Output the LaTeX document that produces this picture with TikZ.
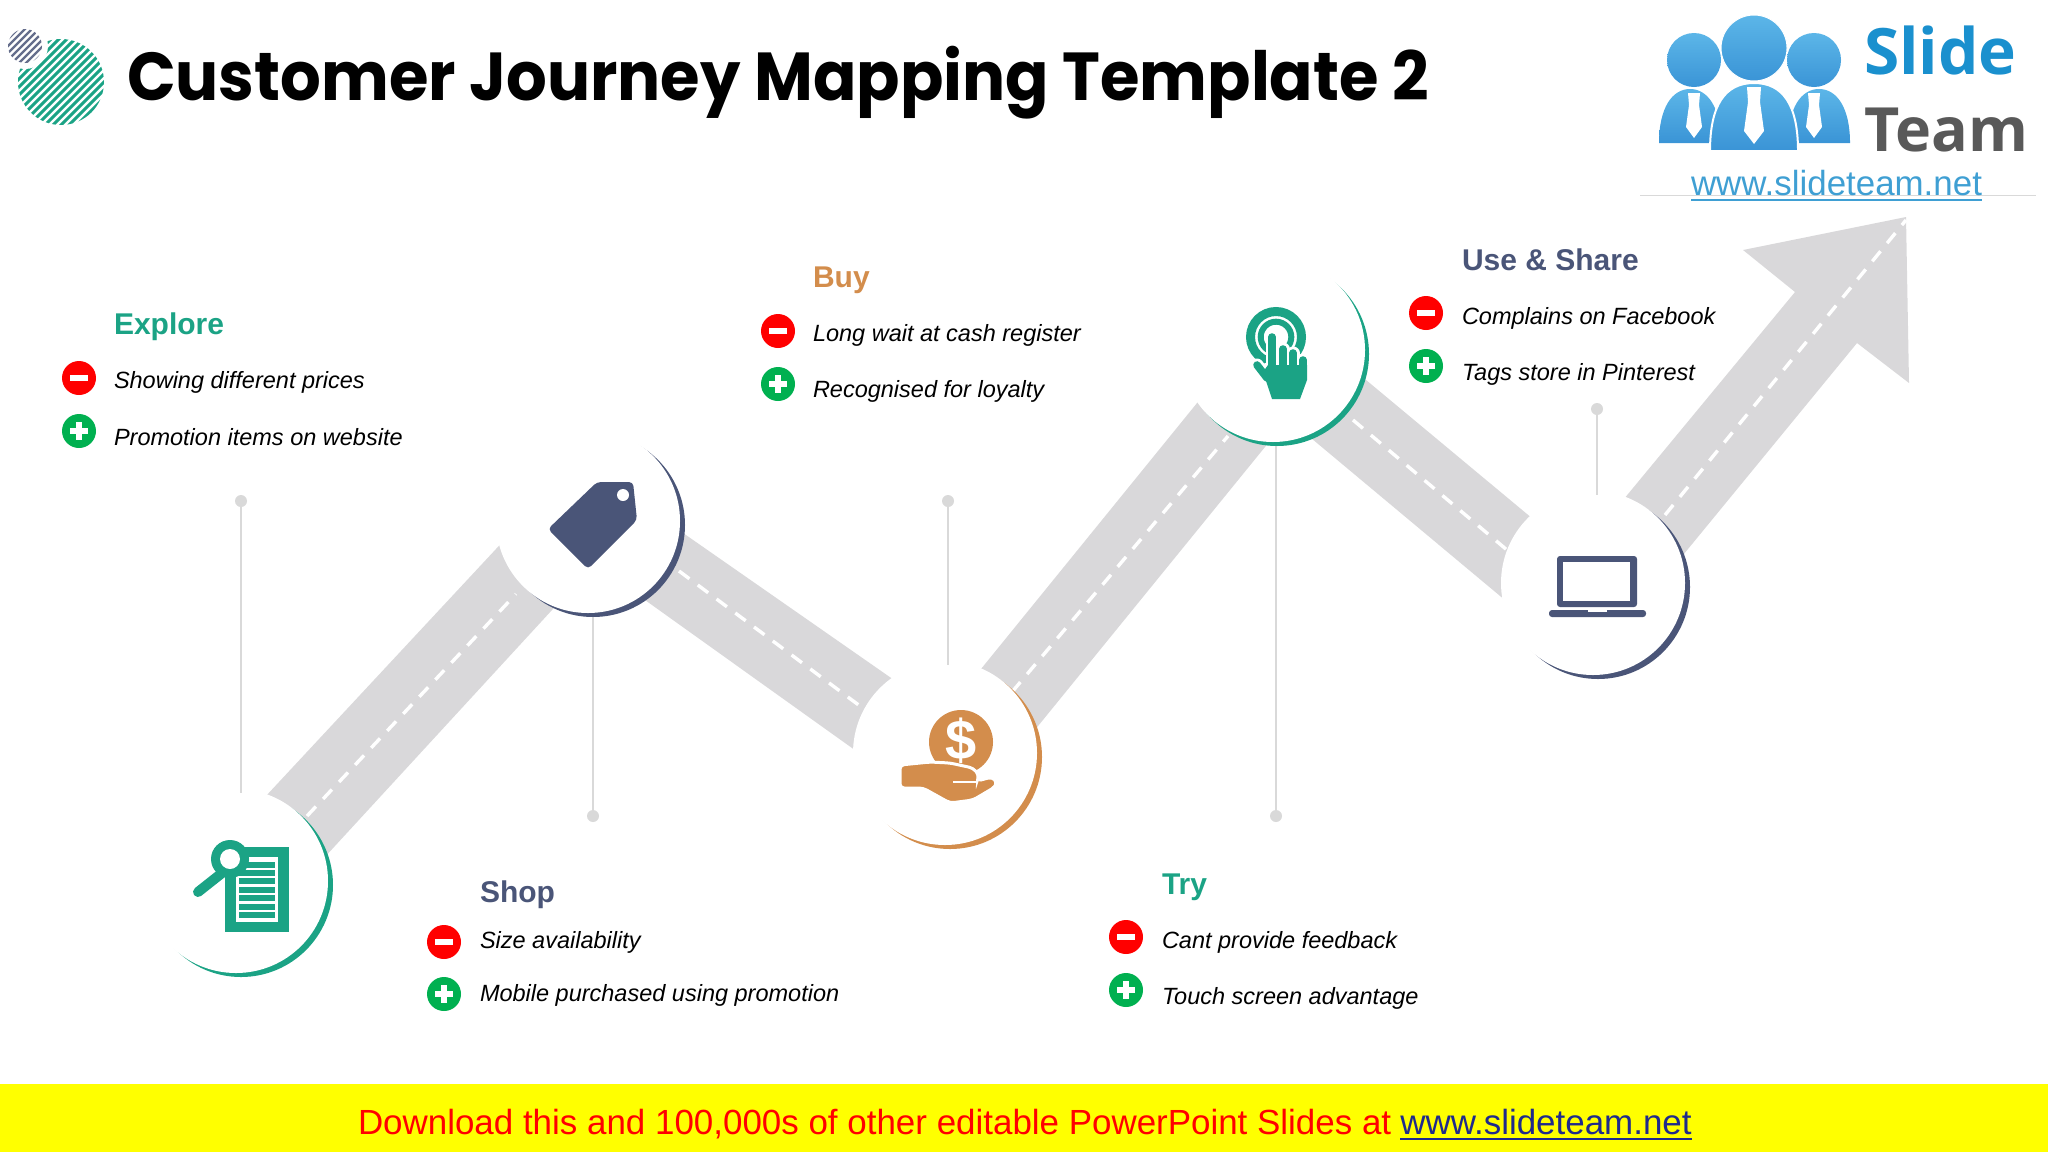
\documentclass[tikz,border=0pt]{standalone}
\usepackage{fontspec}
\setmainfont{Liberation Sans}
\newfontfamily\titlefont{Poppins}
\newfontfamily\logofont{Open Sans}
\usepackage{tikz}
\usetikzlibrary{positioning}
%
\definecolor{teal}{HTML}{1BA385}
\definecolor{navy}{HTML}{4A5578}
\definecolor{ochre}{HTML}{D38D4C}
\definecolor{road}{HTML}{D9D8DA}
\definecolor{stem}{HTML}{D9D9D9}
\definecolor{okgreen}{HTML}{00B050}
\definecolor{skyblue}{HTML}{3F9FD3}
\definecolor{slideblue}{HTML}{1A90CE}
\definecolor{headtop}{HTML}{5CB6E8}
\definecolor{headbot}{HTML}{3A94D6}
\definecolor{bannerfill}{HTML}{FFFF00}
\definecolor{bannerred}{HTML}{FF0000}
\definecolor{bannerlink}{HTML}{1F2A8C}
%
\tikzset{
  every node/.style={inner sep=0pt,outer sep=0pt},
  crescent/.style={circle,minimum size=92pt},
  ring/.style={circle,fill=white,minimum size=92pt},
  stemdot/.style={circle,fill=stem,minimum size=6pt},
  stemline/.style={draw=stem,line width=1pt},
  roadpart/.style={fill=road},
  roadmark/.style={draw=white,line width=1.7pt,dash pattern=on 6.5pt off 5.2pt},
  heading/.style={anchor=base west,font=\fontsize{15}{17}\selectfont\bfseries},
  item/.style={anchor=base west,font=\fontsize{11.75}{14}\selectfont\itshape},
  badminus/.style={circle,fill=bannerred,minimum size=17pt,path picture={
      \fill [white] (path picture bounding box.center) ++(-9,-3) rectangle ++(18,6) ;}},
  goodplus/.style={circle,fill=okgreen,minimum size=17pt,path picture={
      \fill [white] (path picture bounding box.center) ++(-9,-3) rectangle ++(18,6) ;
      \fill [white] (path picture bounding box.center) ++(-3,-9) rectangle ++(6,18) ;}},
  logoblue/.style={top color=headtop,bottom color=headbot},
}
\begin{document}
\begin{tikzpicture}[x=0.5pt,y=-0.5pt]
%
  \useasboundingbox (0,0) rectangle (2048,1152) ;
%
% title and its two striped discs
  \begin{scope}
    \clip (61,82) circle [radius=43] ;
    \foreach \i in {-40,-32,...,130}
      \draw [teal,line width=1.5pt] (\i,130) -- ++(100,-100) ;
  \end{scope}
  \fill [white] (25,46) circle [radius=23] ;
  \begin{scope}
    \clip (25,46) circle [radius=17] ;
    \foreach \i in {-30,-23,...,70}
      \draw [navy!85,line width=1.2pt] (\i,70) -- ++(50,-50) ;
  \end{scope}
  \node [anchor=base west,font=\titlefont\fontsize{32}{38}\selectfont\bfseries] (title) at (127,100)
    {\scalebox{1}[1.06]{Customer Journey Mapping Template 2}} ;
%
% logo
  \draw [stem,line width=0.5pt] (1640,195) -- (2036,195) ;
  \foreach \x in {1659,1788}
    \path [logoblue,xshift=(\x-1659)*0.5pt] (1659,143) .. controls (1659,108) and (1672,89) .. (1690,89)
      .. controls (1708,89) and (1721,108) .. (1721,143) -- cycle ;
  \path [logoblue,draw=white,line width=1pt] (1710,151) .. controls (1710,105) and (1725,83) .. (1754,83)
    .. controls (1783,83) and (1798,105) .. (1798,151) -- cycle ;
  \shade [logoblue] (1694,60) circle [radius=27] ;
  \shade [logoblue] (1814,60) circle [radius=27] ;
  \shade [logoblue,draw=white,line width=0.5pt] (1754,48) circle [radius=33] ;
  \foreach \x in {1694,1814}
    \fill [white] (\x-6,93) -- (\x+6,93) -- (\x+5,105) -- (\x+8,127) -- (\x,138) -- (\x-8,127) -- (\x-5,105) -- cycle ;
  \fill [white] (1747,87) -- (1761,87) -- (1760,102) -- (1764,131) -- (1754,144) -- (1744,131) -- (1748,102) -- cycle ;
  \node [anchor=base west,text=slideblue,font=\logofont\fontsize{32}{36}\selectfont\bfseries] (slide) at (1864,74) {Slide} ;
  \node [anchor=base west,text=black!65,font=\logofont\fontsize{30.5}{36}\selectfont\bfseries] (team) at (1864,151) {Team} ;
  \node [anchor=base west,text=skyblue,font=\fontsize{17.45}{20}\selectfont] (logourl) at (1691,195) {www.slideteam.net} ;
  \draw [skyblue,line width=1.4pt] (logourl.base west) ++(0,5) -- ++(291,0) ;
%
% road
  \fill [roadpart] (238,826) -- (523,520) -- (575,585) -- (300,884) -- cycle ;
  \fill [roadpart] (640,503) -- (917,696) -- (880,768) -- (610,575) -- cycle ;
  \fill [roadpart] (955,701) -- (1223,371) -- (1291,415) -- (1012,758) -- cycle ;
  \fill [roadpart] (1318,340) -- (1563,544) -- (1536,626) -- (1293,423) -- cycle ;
  \fill [roadpart] (1590,540) -- (1795,292) -- (1743,250) -- (1906,217) -- (1909,383)
    -- (1857,343) -- (1656,588) -- cycle ;
%
  \draw [roadmark] (307,816) -- (516,594) ;
  \draw [roadmark] (679,571) -- (868,712) ;
  \draw [roadmark] (1012,692) -- (1228,436) ;
  \draw [roadmark] (1353,420) -- (1507,550) ;
  \draw [roadmark] (1665,515) -- (1906,220) ;
%
% rings
  \node [crescent,fill=teal] (exc) at (241,885) {} ;
  \node [ring] (exr) at (236,881) {} ;
  \node [crescent,fill=navy] (shc) at (593,525) {} ;
  \node [ring] (shr) at (588,521) {} ;
  \node [crescent,fill=ochre] (byc) at (950,757) {} ;
  \node [ring] (byr) at (945,753) {} ;
  \node [crescent,fill=teal] (tyc) at (1277,354) {} ;
  \node [ring] (tyr) at (1273,350) {} ;
  \node [crescent,fill=navy] (usc) at (1598,587) {} ;
  \node [ring] (usr) at (1593,583) {} ;
%
% stems
  \node [stemdot] (exd) at (241,501) {} ;
  \node [stemdot] (shd) at (593,816) {} ;
  \node [stemdot] (byd) at (948,501) {} ;
  \node [stemdot] (tyd) at (1276,816) {} ;
  \node [stemdot] (usd) at (1597,409) {} ;
%
  \draw [stemline,shorten >=-2pt] (exd) -- (exd |- exr.north) ;
  \draw [stemline] (shd) -- (shd |- shc.south) ;
  \draw [stemline,shorten >=-2pt] (byd) -- (byd |- byr.north) ;
  \draw [stemline] (tyd) -- (tyd |- tyc.south) ;
  \draw [stemline,shorten >=-2pt] (usd) -- (usd |- usr.north) ;
%
% explore icon
  \fill [teal] (225,847) rectangle (289,932) ;
  \fill [white] (236,857) rectangle (278,922) ;
  \foreach \y in {862,870,878,887,895,904,912}
    \fill [teal] (239,\y) rectangle (275,\y+6) ;
  \draw [teal,line width=5pt,line cap=round] (222,873) -- (198,892) ;
  \fill [teal] (230,859) circle [radius=19] ;
  \fill [white] (230,859) circle [radius=10] ;
%
% shop icon
  \fill [navy,rounded corners=2pt] (597,482) -- (633,482) -- (637,520) -- (588,569) -- (548,529) -- cycle ;
  \fill [white] (623,495) circle [radius=6] ;
%
% buy icon
  \fill [ochre] (961,742) circle [radius=32] ;
  \node [text=white,font=\fontsize{28}{30}\selectfont\bfseries] (dollar) at (961,741) {\$} ;
  \draw [white,line width=1.5pt,fill=ochre,rounded corners=2pt] (900,765) -- (930,762) -- (950,763) -- (973,768)
    -- (979,775) -- (977,781) -- (992,777) -- (997,782) -- (995,787) -- (973,800) -- (950,803) -- (923,788)
    -- (900,788) -- cycle ;
  \draw [white,line width=0.8pt] (953,782) -- (977,782) ;
%
% try icon
  \draw [teal,line width=4.5pt] (1276,337) circle [radius=25.5] ;
  \draw [teal,line width=3pt] (1276,337) circle [radius=15.3] ;
  \foreach \x/\y in {1272/337,1283/349,1293/353,1303/360} {
    \draw [white,line width=6.5pt,line cap=round] (\x,\y) -- (\x,375) ;
  }
  \draw [white,line width=6.5pt,line cap=round] (1257,365) -- (1267,378) ;
  \fill [white] (1258,366) -- (1268,362) -- (1312,356) -- (1312,385) -- (1304,402) -- (1270,402) -- cycle ;
  \foreach \x/\y in {1272/337,1283/349,1293/353,1303/360} {
    \draw [teal,line width=3.8pt,line cap=round] (\x,\y) -- (\x,375) ;
  }
  \draw [teal,line width=3.8pt,line cap=round] (1257,365) -- (1267,378) ;
  \fill [teal] (1263,372) -- (1268,365) -- (1307,365) -- (1307,380) -- (1300,399) -- (1272,399) -- cycle ;
%
% use and share icon
  \fill [navy,rounded corners=1.5pt] (1557,607) -- (1557,556) -- (1637,556) -- (1637,607) -- cycle ;
  \fill [white] (1563,562) rectangle (1630,601) ;
  \fill [navy,rounded corners=1.5pt] (1549,610) -- (1646,610) -- (1646,617) -- (1549,617) -- cycle ;
  \fill [white] (1588,610) rectangle (1607,612) ;
%
% explore text
  \node [heading,text=teal] (exh) at (114,334) {Explore} ;
  \node [badminus] (exm) at (79,378) {} ;
  \node [item] (ext) at (114,388) {Showing different prices} ;
  \node [goodplus] (exp) at (79,431) {} ;
  \node [item] (exs) at (114,445) {Promotion items on website} ;
%
% shop text
  \node [heading,text=navy] (shh) at (480,902) {Shop} ;
  \node [badminus] (shm) at (444,942) {} ;
  \node [item] (sht) at (480,948) {Size availability} ;
  \node [goodplus] (shp) at (444,994) {} ;
  \node [item] (shs) at (480,1001) {Mobile purchased using promotion} ;
%
% buy text
  \node [heading,text=ochre] (byh) at (813,287) {Buy} ;
  \node [badminus] (bym) at (778,331) {} ;
  \node [item] (byt) at (813,341) {Long wait at cash register} ;
  \node [goodplus] (byp) at (778,384) {} ;
  \node [item] (bys) at (813,397) {Recognised for loyalty} ;
%
% try text
  \node [heading,text=teal] (tyh) at (1162,894) {Try} ;
  \node [badminus] (tym) at (1126,937) {} ;
  \node [item] (tyt) at (1162,948) {Cant provide feedback} ;
  \node [goodplus] (typ) at (1126,990) {} ;
  \node [item] (tys) at (1162,1004) {Touch screen advantage} ;
%
% use and share text
  \node [heading,text=navy] (ush) at (1462,270) {Use \& Share} ;
  \node [badminus] (usm) at (1426,313) {} ;
  \node [item] (ust) at (1462,324) {Complains on Facebook} ;
  \node [goodplus] (usp) at (1426,366) {} ;
  \node [item] (uss) at (1462,380) {Tags store in Pinterest} ;
%
% banner
  \fill [bannerfill] (0,1084) rectangle (2048,1152) ;
  \node [anchor=base west,text=bannerred,font=\fontsize{17.47}{20}\selectfont] (promo) at (358,1134)
    {Download this and 100,000s of other editable PowerPoint Slides at} ;
  \node [text=bannerlink,font=\fontsize{17.47}{20}\selectfont,right=4.5pt of promo.base east,anchor=base west] (promourl)
    {www.slideteam.net} ;
  \draw [bannerlink,line width=0.9pt] (promourl.base west) ++(0,5) -- (promourl.base east |- 0,1139) ;
%
\end{tikzpicture}
\end{document}
